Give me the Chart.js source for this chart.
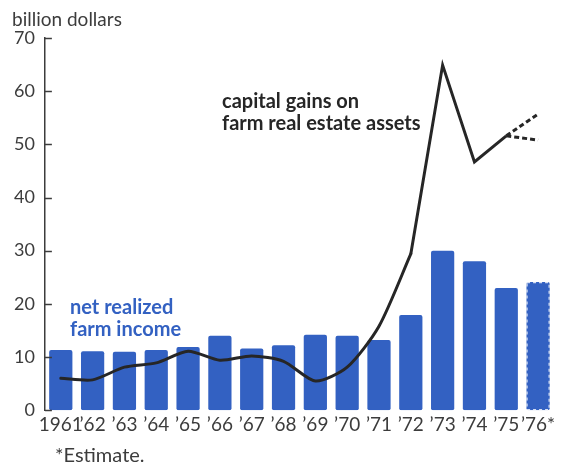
<!DOCTYPE html>
<html>
<head>
<meta charset="utf-8">
<script src="https://cdn.jsdelivr.net/npm/chart.js@4.4.0/dist/chart.umd.min.js"></script>
<style>
  html, body { margin: 0; padding: 0; background: #ffffff; }
  #wrap { width: 561px; height: 466px; position: relative; }
</style>
</head>
<body>
<div id="wrap"><canvas id="c" width="561" height="466"></canvas></div>
<script>
// ---- data ----
const yearLabels = ['1961', '\u201962', '\u201963', '\u201964', '\u201965', '\u201966', '\u201967', '\u201968',
                    '\u201969', '\u201970', '\u201971', '\u201972', '\u201973', '\u201974', '\u201975', '\u201976*'];
const netIncome = [11.3, 11.1, 11.0, 11.3, 11.9, 14.0, 11.6, 12.2, 14.2, 14.0, 13.2, 17.9, 30.0, 28.0, 23.0, 24.1];
// capital gains, smooth early part (1961-'72) and straight later part ('72-'75)
const capitalGainsEarly = [6.0, 5.7, 8.1, 8.9, 11.1, 9.4, 10.2, 9.2, 5.5, 8.1, 15.8, 29.4, null, null, null, null];
const capitalGainsLate  = [null, null, null, null, null, null, null, null, null, null, null, 29.4, 64.9, 46.7, 51.6, null];
const estimateHigh = [null, null, null, null, null, null, null, null, null, null, null, null, null, null, 51.6, 55.7];
const estimateLow  = [null, null, null, null, null, null, null, null, null, null, null, null, null, null, 51.6, 50.8];
const yTicks = [0, 10, 20, 30, 40, 50, 60, 70];
const estimateIndex = 15;

const BLUE = '#3361c2';
const INK = '#262626';
const GREY = '#3c3c3c';

const decor = {
  id: 'decor',
  afterDatasetsDraw(chart) {
    const ctx = chart.ctx;
    const meta = chart.getDatasetMeta(0);
    const el = meta.data[estimateIndex];
    if (el) {
      const p = el.getProps(['x', 'y', 'base', 'width'], true);
      ctx.save();
      ctx.strokeStyle = 'rgba(255,255,255,0.8)';
      ctx.lineWidth = 1.2;
      ctx.setLineDash([3, 3]);
      ctx.strokeRect(p.x - p.width / 2 + 0.6, p.y + 0.6, p.width - 1.2, p.base - p.y - 1.2);
      ctx.restore();
    }
  },
  afterDraw(chart) {
    const ctx = chart.ctx;
    const ys = chart.scales.y;
    ctx.save();
    // inward tick marks
    ctx.strokeStyle = GREY;
    ctx.lineWidth = 1.5;
    yTicks.forEach(v => {
      const py = Math.round(ys.getPixelForValue(v)) + 0.5;
      ctx.beginPath();
      ctx.moveTo(ys.right, py);
      ctx.lineTo(ys.right + 7, py);
      ctx.stroke();
    });
    // texts
    ctx.textBaseline = 'middle';
    ctx.textAlign = 'left';
    ctx.fillStyle = GREY;
    ctx.font = '19px Lato';
    ctx.fillText('billion dollars', 12, 20);
    ctx.font = '20px Lato';
    ctx.fillText('*Estimate.', 55, 456);
    ctx.fillStyle = INK;
    ctx.font = 'bold 20px Lato';
    ctx.fillText('capital gains on', 222, 102);
    ctx.fillText('farm real estate assets', 222, 124);
    ctx.fillStyle = BLUE;
    ctx.fillText('net realized', 70, 308);
    ctx.fillText('farm income', 70, 330);
    ctx.restore();
  }
};

const lineBase = { type: 'line', borderColor: INK, borderWidth: 3, pointRadius: 0, fill: false, order: 1 };

new Chart(document.getElementById('c'), {
  type: 'bar',
  data: {
    labels: yearLabels,
    datasets: [
      {
        type: 'bar',
        label: 'net realized farm income',
        data: netIncome,
        backgroundColor: BLUE,
        borderRadius: 2,
        borderSkipped: false,
        categoryPercentage: 1.0,
        barPercentage: 0.73,
        order: 2
      },
      Object.assign({}, lineBase, { label: 'capital gains on farm real estate assets', data: capitalGainsEarly, tension: 0.25, borderCapStyle: 'round', borderJoinStyle: 'round' }),
      Object.assign({}, lineBase, { label: 'capital gains (cont.)', data: capitalGainsLate, tension: 0, borderJoinStyle: 'miter' }),
      Object.assign({}, lineBase, { label: 'estimate high', data: estimateHigh, borderDash: [5, 3] }),
      Object.assign({}, lineBase, { label: 'estimate low', data: estimateLow, borderDash: [5, 3] })
    ]
  },
  options: {
    responsive: false,
    animation: false,
    devicePixelRatio: 1,
    layout: { padding: { top: 38, left: 4, right: 7, bottom: 27 } },
    plugins: {
      legend: { display: false },
      tooltip: { enabled: false },
      title: { display: false }
    },
    scales: {
      x: {
        type: 'category',
        offset: true,
        grid: { display: false, drawTicks: false, offset: true },
        border: { display: false },
        ticks: {
          color: GREY,
          font: { family: 'Lato', size: 19 },
          padding: 3,
          maxRotation: 0,
          autoSkip: false
        }
      },
      y: {
        min: 0,
        max: 70,
        grid: { display: false, drawTicks: false },
        border: { display: true, color: GREY, width: 1.5 },
        ticks: {
          stepSize: 10,
          color: GREY,
          font: { family: 'Lato', size: 18 },
          padding: 10
        }
      }
    }
  },
  plugins: [decor]
});
</script>
</body>
</html>
